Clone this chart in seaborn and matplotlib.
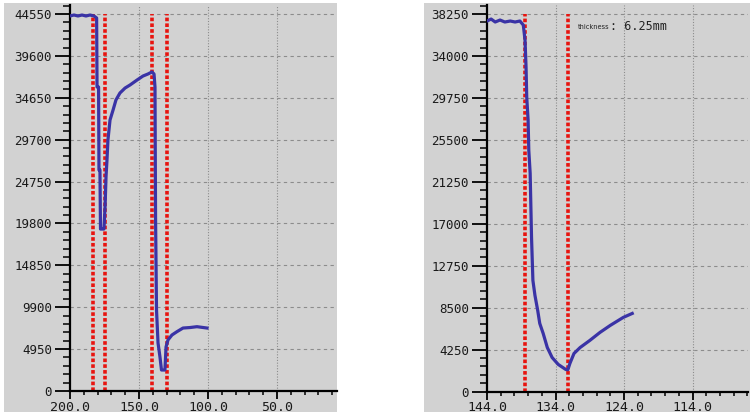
import matplotlib
matplotlib.use('Agg')
import matplotlib.pyplot as plt
from matplotlib.patches import Rectangle
from matplotlib.ticker import MultipleLocator, AutoMinorLocator, FuncFormatter
import numpy as np
import seaborn as sns

# left scan: position (mm) vs signal
left_pos = [200.0, 197.1, 194.2, 191.3, 188.4, 185.5, 182.6, 180.7, 180.4, 179.3, 179.0, 178.3,
            177.9, 176.8, 175.4, 174.6, 173.9, 173.2, 172.5, 171.0, 168.8, 166.7, 163.8, 160.1,
            156.5, 151.4, 147.1, 143.5, 140.6, 139.1, 138.4, 138.0, 137.3, 136.2, 134.8, 133.7,
            131.2, 130.4, 129.0, 126.1, 122.5, 118.1, 113.0, 108.0, 100.7]
left_val = [44315, 44430, 44315, 44430, 44315, 44430, 44315, 44080, 35920, 35920, 26120, 26120,
            19140, 19140, 19140, 21740, 25290, 27300, 29660, 32025, 33200, 34390, 35215, 35800,
            36160, 36750, 37220, 37460, 37700, 37460, 35920, 20560, 9570, 5670, 4020, 2480,
            2480, 5200, 6030, 6620, 7010, 7440, 7500, 7600, 7440]
left_marks = [183.5, 174.4, 140.6, 129.9]

# right scan
right_pos = [144.0, 143.4, 142.8, 142.1, 141.4, 140.6, 139.9, 139.2, 138.7, 138.45, 138.3, 138.2,
             138.0, 137.9, 137.7, 137.5, 137.3, 137.0, 136.6, 136.3, 135.8, 135.2, 134.5, 133.6,
             132.5, 132.2, 131.9, 131.3, 130.4, 129.0, 127.5, 126.0, 124.1, 122.8]
right_val = [37540, 37740, 37440, 37640, 37440, 37540, 37440, 37540, 37130, 35610, 32870, 29830,
             27500, 24450, 22120, 15625, 11260, 9740, 8220, 6900, 5885, 4460, 3450, 2740,
             2230, 2200, 2840, 3855, 4460, 5170, 5990, 6700, 7510, 7910]
right_marks = [138.45, 132.2]
thickness_label = '6.25mm'

W, H = 752, 415
fig = plt.figure(figsize=(W / 100, H / 100), dpi=100, facecolor='white')

bg = '#d2d2d2'
fig.patches.append(Rectangle((4 / W, 1 - 412 / H), 333 / W, 409 / H, transform=fig.transFigure,
                             facecolor=bg, edgecolor='none', zorder=-5))
fig.patches.append(Rectangle((424 / W, 1 - 412 / H), 326 / W, 409 / H, transform=fig.transFigure,
                             facecolor=bg, edgecolor='none', zorder=-5))

line_col = '#3a33a6'
red = '#e8140f'
grid_col = '#8c8c8c'
mono = 'DejaVu Sans Mono'


def setup(ax, step_y, top_y, step_x, off_x, xlim, ylim):
    ax.set_facecolor('none')
    ax.set_xlim(*xlim)
    ax.set_ylim(*ylim)
    for s in ['top', 'right']:
        ax.spines[s].set_visible(False)
    for s in ['left', 'bottom']:
        ax.spines[s].set_color('black')
        ax.spines[s].set_linewidth(1.6)
    ax.yaxis.set_major_locator(MultipleLocator(step_y))
    ax.yaxis.set_minor_locator(AutoMinorLocator(5))
    ax.xaxis.set_major_locator(MultipleLocator(step_x, offset=off_x))
    ax.xaxis.set_minor_locator(AutoMinorLocator(5))
    ax.yaxis.set_major_formatter(FuncFormatter(lambda v, p: '%d' % round(v)))
    ax.xaxis.set_major_formatter(FuncFormatter(lambda v, p: '%.1f' % v))
    ax.tick_params(axis='y', which='major', length=11, width=1.3, pad=2, labelsize=9)
    ax.tick_params(axis='y', which='minor', length=5, width=1.1)
    ax.tick_params(axis='x', which='major', length=6, width=1.3, pad=1, labelsize=9.5)
    ax.tick_params(axis='x', which='minor', length=3, width=1.1)
    for yv in np.arange(step_y, top_y + 1, step_y):
        ax.axhline(yv, color=grid_col, lw=0.8, ls=(0, (3, 3)), zorder=1)
    xt = [t for t in ax.get_xticks() if min(xlim) < t < max(xlim)]
    for xv in xt:
        ax.axvline(xv, color=grid_col, lw=0.8, ls=(0, (1, 1.5)), zorder=1)


def finish(ax):
    ax.set_xlabel('')
    ax.set_ylabel('')
    for lab in ax.get_xticklabels() + ax.get_yticklabels():
        lab.set_fontfamily(mono)
        lab.set_color('#1a1a1a')


# left panel
ax1 = fig.add_axes([70 / W, 24 / H, 267 / W, 386 / H])
setup(ax1, 4950, 44550, 50, 0, (200, 6.5), (0, 45613))
ax1.vlines(left_marks, 0, 44550, colors=red, lw=2.6, linestyles=(0, (1, 0.6)), zorder=2)
sns.lineplot(x=left_pos, y=left_val, ax=ax1, sort=False, estimator=None, color=line_col, lw=2.3, zorder=3)
finish(ax1)

# right panel
ax2 = fig.add_axes([487 / W, 23.5 / H, 261 / W, 386.5 / H])
setup(ax2, 4250, 38250, 10, 4, (144, 105.9), (0, 39163))
ax2.vlines(right_marks, 0, 38250, colors=red, lw=2.6, linestyles=(0, (1, 0.6)), zorder=2)
sns.lineplot(x=right_pos, y=right_val, ax=ax2, sort=False, estimator=None, color=line_col, lw=2.3, zorder=3)
finish(ax2)
ax2.text(130.7, 36980, 'thickness', fontsize=4.8, color='#222222', va='center', ha='left')
ax2.text(126.1, 36980, ': ' + thickness_label, fontsize=8.5, family=mono,
         color='#222222', va='center', ha='left')

fig.savefig('out.png', dpi=100, facecolor='white')
